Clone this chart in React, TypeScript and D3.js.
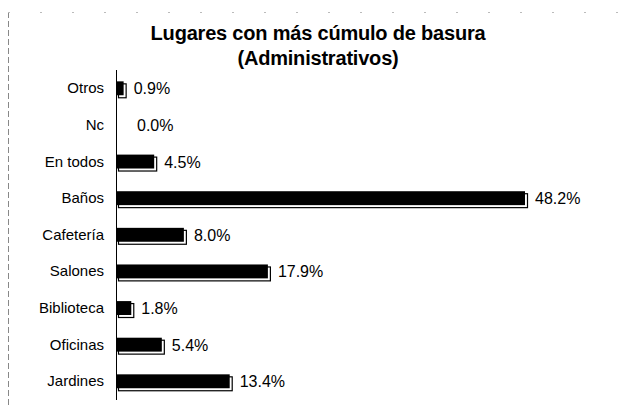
import React from "react";
import * as d3 from "d3";

const categories = ["Otros", "Nc", "En todos", "Baños", "Cafetería", "Salones", "Biblioteca", "Oficinas", "Jardines"];
const values = [0.9, 0.0, 4.5, 48.2, 8.0, 17.9, 1.8, 5.4, 13.4];
const titleLines = ["Lugares con más cúmulo de basura", "(Administrativos)"];

const W = 636;
const H = 408;
const x0 = 116;

export default function App() {
  const x = d3.scaleLinear().domain([0, 48.2]).range([x0, 525]);
  const y = d3.scaleBand<string>().domain(categories).range([70, 399.6]).paddingInner(0.62).paddingOuter(0.31);
  const bh = y.bandwidth();
  const font = "'Liberation Sans', Arial, sans-serif";
  const off = 3;
  return (
    <svg width={W} height={H} style={{ position: "absolute", left: 0, top: 0, background: "#fff" }}>
      <line x1={8.5} y1={12} x2={8.5} y2={H} stroke="#888" strokeDasharray="6,3" strokeWidth={1} />
      <line x1={8} y1={12.5} x2={W - 10} y2={12.5} stroke="#bbb" strokeDasharray="2,30" strokeWidth={1} />
      {titleLines.map((t, i) => (
        <text key={i} x={318} y={40 + i * 25} textAnchor="middle" fontFamily={font} fontWeight="bold" fontSize={20} fill="#000" letterSpacing={-0.2}>
          {t}
        </text>
      ))}
      <line x1={x0 + 0.5} y1={70} x2={x0 + 0.5} y2={400} stroke="#000" strokeWidth={1} />
      {categories.map((c, i) => {
        const v = values[i];
        const yy = y(c)!;
        const w = x(v) - x0;
        return (
          <g key={c}>
            <text x={104} y={yy + bh / 2 + 5} textAnchor="end" fontFamily={font} fontSize={15} fill="#000">
              {c}
            </text>
            {v > 0 && (
              <>
                <rect x={x0 + off - 0.5} y={yy + off - 0.5} width={w} height={bh} fill="#fff" stroke="#000" strokeWidth={1.2} />
                <rect x={x0} y={yy} width={w} height={bh} fill="#000" />
              </>
            )}
            <text x={x(v) + off + (v > 0 ? 7 : 18)} y={yy + bh / 2 + 6} fontFamily={font} fontSize={16} fill="#000">
              {v.toFixed(1)}%
            </text>
          </g>
        );
      })}
    </svg>
  );
}
